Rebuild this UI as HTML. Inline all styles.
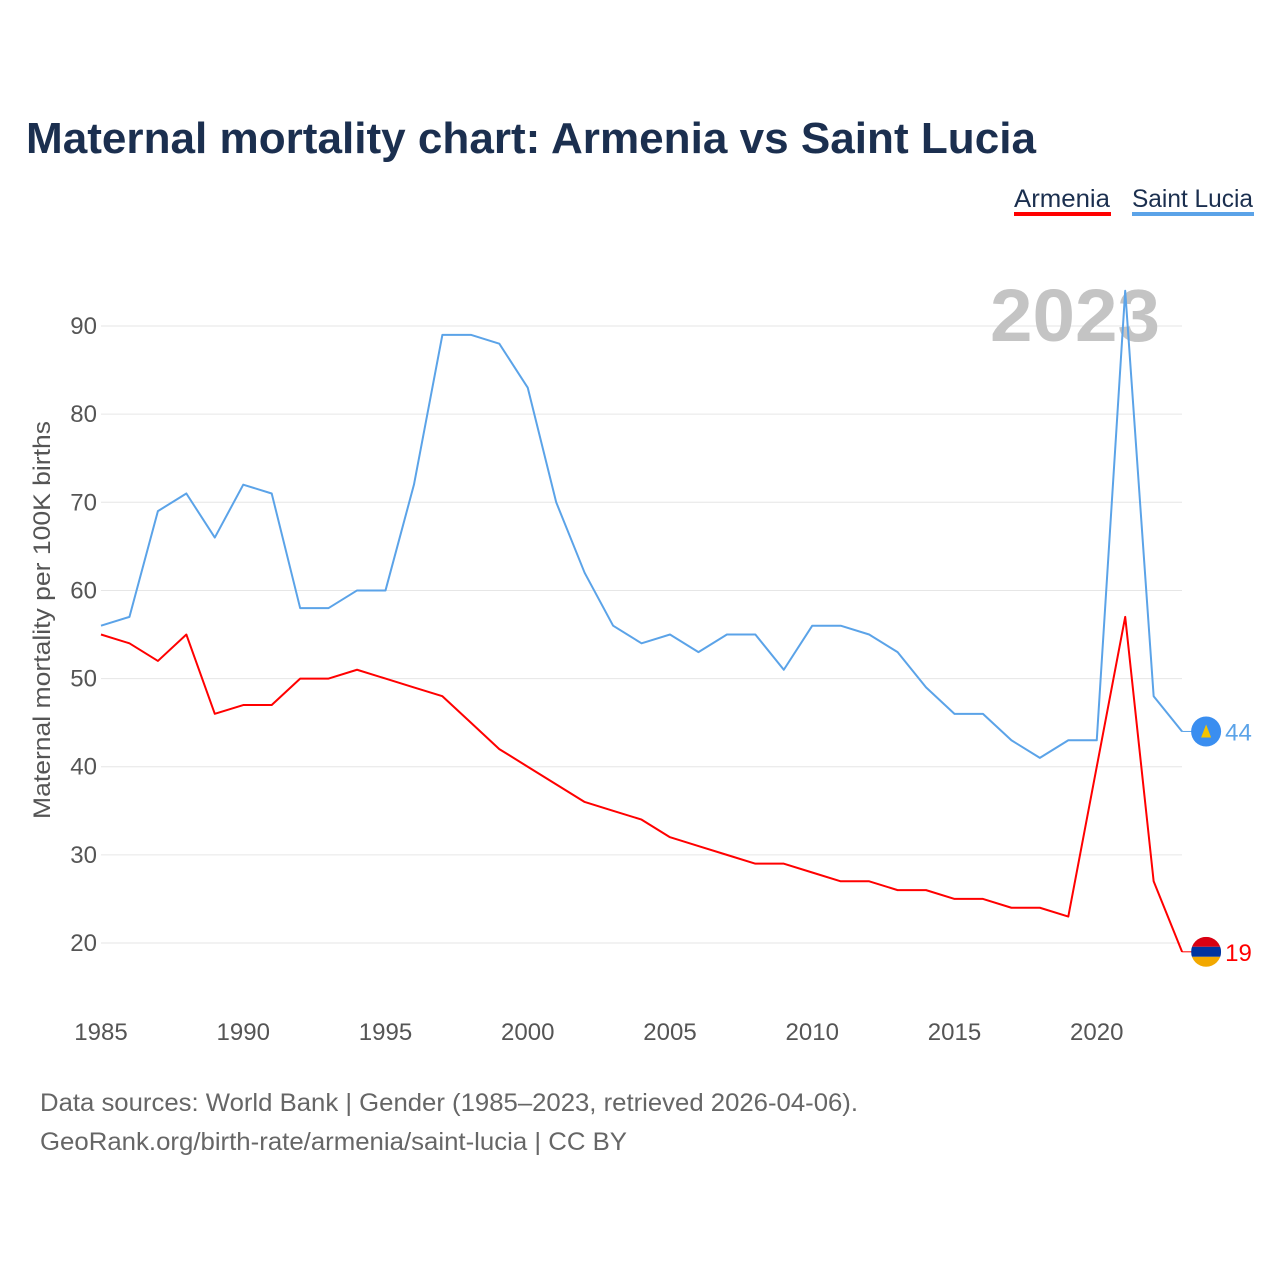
<!DOCTYPE html>
<html><head><meta charset="utf-8"><style>
body{margin:0;background:#fff;font-family:"Liberation Sans",sans-serif}
</style></head><body>
<svg width="1280" height="1280" viewBox="0 0 1280 1280" style="font-family:'Liberation Sans',sans-serif">
<text x="26" y="153" font-size="44" font-weight="bold" fill="#1b2f4f" textLength="1010" lengthAdjust="spacingAndGlyphs">Maternal mortality chart: Armenia vs Saint Lucia</text>
<g>
<text x="1014" y="207" font-size="25" fill="#1b2f4f" textLength="96" lengthAdjust="spacingAndGlyphs">Armenia</text>
<rect x="1014" y="212" width="97" height="4" fill="#ff0000"/>
<text x="1132" y="207" font-size="25" fill="#1b2f4f" textLength="121" lengthAdjust="spacingAndGlyphs">Saint Lucia</text>
<rect x="1132" y="212" width="122" height="4" fill="#5ba3e8"/>
</g>
<g id="grid"></g>
<text x="1160" y="341" font-size="74" font-weight="bold" fill="#c4c4c4" text-anchor="end" textLength="170" lengthAdjust="spacingAndGlyphs">2023</text>
<text transform="translate(50,620) rotate(-90)" font-size="24" fill="#555" text-anchor="middle" textLength="398" lengthAdjust="spacingAndGlyphs">Maternal mortality per 100K births</text>
<g id="series"></g>
<text x="40" y="1111" font-size="25" fill="#666" textLength="818" lengthAdjust="spacingAndGlyphs">Data sources: World Bank | Gender (1985–2023, retrieved 2026-04-06).</text>
<text x="40" y="1150" font-size="25" fill="#666" textLength="587" lengthAdjust="spacingAndGlyphs">GeoRank.org/birth-rate/armenia/saint-lucia | CC BY</text>
</svg>
<script>
const years=[];for(let y=1985;y<=2023;y++)years.push(y);
const saintLucia=[56,57,69,71,66,72,71,58,58,60,60,72,89,89,88,83,70,62,56,54,55,53,55,55,51,56,56,55,53,49,46,46,43,41,43,43,94,48,44];
const armenia=[55,54,52,55,46,47,47,50,50,51,50,49,48,45,42,40,38,36,35,34,32,31,30,29,29,28,27,27,26,26,25,25,24,24,23,40,57,27,19];
const yTicks=[20,30,40,50,60,70,80,90];
const xTicks=[1985,1990,1995,2000,2005,2010,2015,2020];
const NS="http://www.w3.org/2000/svg";
const xs=y=>101+(y-1985)*28.45;
const ys=v=>943-(v-20)*8.814;
const grid=document.getElementById('grid'),ser=document.getElementById('series');
function mk(tag,attrs,parent){const e=document.createElementNS(NS,tag);for(const k in attrs)e.setAttribute(k,attrs[k]);parent.appendChild(e);return e;}
yTicks.forEach(v=>{
 const l=mk('line',{x1:101,x2:1182,y1:ys(v),y2:ys(v),stroke:'#e6e6e6','stroke-width':1},grid);
 
 
 const t=mk('text',{x:97,y:ys(v)+8,'font-size':24,fill:'#555','text-anchor':'end'},grid);t.textContent=v;
 
 
});
xTicks.forEach(y=>{
 const t=mk('text',{x:xs(y),y:1040,'font-size':24,fill:'#555','text-anchor':'middle'},grid);t.textContent=y;
 
 
});
function line(data,color,name){
 const p=mk('polyline',{points:data.map((v,i)=>xs(years[i])+','+ys(v)).join(' '),fill:'none',stroke:color,'stroke-width':2,'stroke-linejoin':'round'},ser);
 
 
 const last=data[data.length-1],lx=xs(years[years.length-1]),ly=ys(last);
 mk('line',{x1:lx,x2:lx+10,y1:ly,y2:ly,stroke:color,'stroke-width':1},ser);
 return {lx,ly,last};
}
const sl=line(saintLucia,'#5ba3e8','saint-lucia');
const am=line(armenia,'#ff0000','armenia');
let c=mk('circle',{cx:sl.lx+24,cy:sl.ly,r:15,fill:'#3a8ef0'},ser);


mk('polygon',{points:`${sl.lx+24},${sl.ly-7} ${sl.lx+29},${sl.ly+6} ${sl.lx+19},${sl.ly+6}`,fill:'#f5c400'},ser);
let t=mk('text',{x:sl.lx+43,y:sl.ly+9,'font-size':24,fill:'#5ba3e8'},ser);t.textContent=sl.last;


const g=mk('g',{},ser);


const cp=mk('clipPath',{id:'cf'},g);mk('circle',{cx:am.lx+24,cy:am.ly,r:15},cp);
mk('rect',{x:am.lx+9,y:am.ly-15,width:30,height:10,fill:'#d90012','clip-path':'url(#cf)'},g);
mk('rect',{x:am.lx+9,y:am.ly-5,width:30,height:10,fill:'#0033a0','clip-path':'url(#cf)'},g);
mk('rect',{x:am.lx+9,y:am.ly+5,width:30,height:10,fill:'#f2a800','clip-path':'url(#cf)'},g);
t=mk('text',{x:am.lx+43,y:am.ly+9,'font-size':24,fill:'#ff0000'},ser);t.textContent=am.last;


</script>
</body></html>
